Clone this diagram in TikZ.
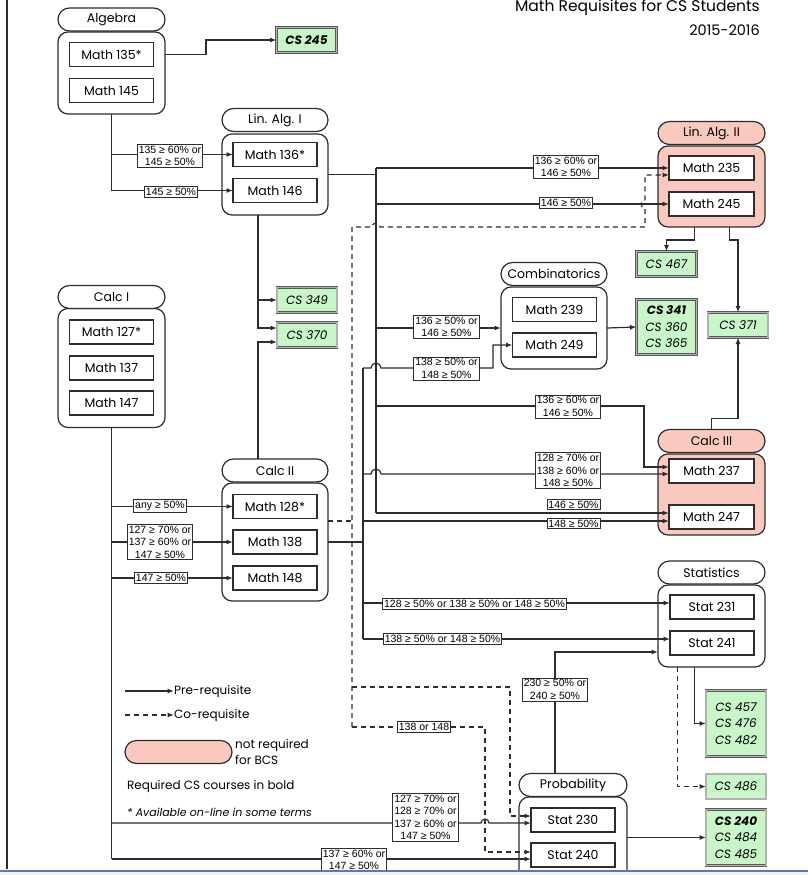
\documentclass[tikz,border=0pt]{standalone}
\usepackage{fontspec}
\setmainfont{Poppins}
\newfontfamily\lblfont{Liberation Sans}
\usetikzlibrary{arrows.meta,calc}
\definecolor{csgreen}{RGB}{200,246,200}
\definecolor{pinkfill}{RGB}{249,201,191}
\definecolor{ink}{RGB}{45,45,45}
\definecolor{bandblue}{RGB}{90,120,190}
\begin{document}
\begin{tikzpicture}[x=1pt,y=-1pt,
  line/.style={draw=ink,line width=1.2pt},
  pre/.style={line,-{Latex[length=6.5pt,width=5pt]}},
  co/.style={pre,dash pattern=on 5pt off 4pt},
  grp/.style={draw=ink,line width=1.2pt,rounded corners=10pt,minimum width=107pt,inner sep=0pt,outer sep=0pt,fill=white},
  hdr/.style={grp,rounded corners=11.5pt,minimum height=23pt,font=\fontsize{12.5}{14}\selectfont},
  pk/.style={fill=pinkfill},
  crs/.style={draw=ink,line width=1.1pt,fill=white,minimum width=84pt,minimum height=24pt,inner sep=0pt,outer sep=0pt,font=\fontsize{12.5}{14}\selectfont},
  cs/.style={draw=black!65,line width=0.6pt,double=black!30,double distance=1.2pt,fill=csgreen,minimum width=60pt,minimum height=25pt,inner sep=0pt,outer sep=0pt,font=\fontsize{12}{16.5}\selectfont\itshape,align=center},
  lbl/.style={draw=ink,line width=0.8pt,fill=white,inner sep=1.5pt,outer sep=0pt,font=\lblfont\fontsize{10.5}{12.5}\selectfont,align=center},
  txt/.style={font=\fontsize{12}{16}\selectfont,inner sep=0pt,anchor=west}
]
\useasboundingbox (0,0) rectangle (808,875);
\fill[white] (0,0) rectangle (808,875);

% title
\node[anchor=base east,inner sep=0pt,font=\fontsize{15.5}{18}\selectfont] (title) at (760,12) {Math Requisites for CS Students};
\node[anchor=base east,inner sep=0pt,font=\fontsize{14.5}{16}\selectfont] (year) at (760,36) {2015-2016};

% ---------- groups ----------
\node[grp,minimum height=82pt] (algG) at (111.5,73) {};
\node[hdr] (algH) at (111.5,19.5) {Algebra};
\node[crs] (m135) at (111.5,54.5) {Math 135*};
\node[crs] (m145) at (111.5,90.5) {Math 145};

\node[grp,minimum height=81pt,minimum width=106pt] (laG) at (275,174.5) {};
\node[hdr,minimum width=106pt] (laH) at (275,120) {Lin. Alg. I};
\node[crs] (m136) at (275,154.5) {Math 136*};
\node[crs] (m146) at (275,190.5) {Math 146};

\node[grp,minimum height=119pt] (c1G) at (111.5,368) {};
\node[hdr] (c1H) at (111.5,297) {Calc I};
\node[crs] (m127) at (111.5,332) {Math 127*};
\node[crs] (m137) at (111.5,368) {Math 137};
\node[crs] (m147) at (111.5,403) {Math 147};

\node[grp,minimum height=118pt,minimum width=106pt] (c2G) at (275,542) {};
\node[hdr,minimum width=106pt] (c2H) at (275,470.5) {Calc II};
\node[crs] (m128) at (275,506.5) {Math 128*};
\node[crs] (m138) at (275,542) {Math 138};
\node[crs] (m148) at (275,578) {Math 148};

\node[grp,pk,minimum height=81pt] (la2G) at (711.5,186.5) {};
\node[hdr,pk] (la2H) at (711.5,133) {Lin. Alg. II};
\node[crs,minimum width=85pt] (m235) at (711.5,168) {Math 235};
\node[crs,minimum width=85pt] (m245) at (711.5,204) {Math 245};

\node[grp,minimum height=82pt,minimum width=106pt] (cmbG) at (554,328) {};
\node[hdr,minimum width=106pt] (cmbH) at (554,274) {Combinatorics};
\node[crs] (m239) at (554.5,309.5) {Math 239};
\node[crs] (m249) at (554.5,345) {Math 249};

\node[grp,pk,minimum height=81pt] (c3G) at (711.5,494.5) {};
\node[hdr,pk] (c3H) at (711.5,441) {Calc III};
\node[crs,minimum width=85pt] (m237) at (711.5,471) {Math 237};
\node[crs,minimum width=85pt] (m247) at (711.5,517) {Math 247};

\node[grp,minimum height=82pt] (stG) at (711.5,626) {};
\node[hdr] (stH) at (711.5,572.5) {Statistics};
\node[crs] (st231) at (712,607) {Stat 231};
\node[crs] (st241) at (712,643) {Stat 241};

\node[grp,minimum height=90pt,minimum width=108pt] (prG) at (573,842) {};
\node[hdr,minimum width=108pt] (prH) at (573,785) {Probability};
\node[crs] (st230) at (573,820) {Stat 230};
\node[crs] (st240) at (573,855) {Stat 240};

% ---------- CS courses ----------
\node[cs] (cs245) at (306.5,40) {\textbf{CS 245}};
\node[cs] (cs349) at (307,300) {CS 349};
\node[cs] (cs370) at (307,335) {CS 370};
\node[cs] (cs467) at (666.5,264) {CS 467};
\node[cs] (cs371) at (738,325) {CS 371};
\node[cs,minimum height=55pt] (cs341) at (666.5,327) {\textbf{CS 341}\\CS 360\\CS 365};
\node[cs,minimum height=66pt] (cs457) at (736,723.5) {CS 457\\CS 476\\CS 482};
\node[cs] (cs486) at (736,786.5) {CS 486};
\node[cs,minimum height=56pt] (cs240) at (736,837.5) {\textbf{CS 240}\\CS 484\\CS 485};

% ---------- helper coordinates ----------
\coordinate (busA) at (376,168);
\coordinate (busB) at (363,368);
\coordinate (j249) at (493,368);
\coordinate (j237) at (644,406);
\coordinate (dA) at (352,227);
\coordinate (dE) at (645,227);
\coordinate (dB) at (485,727);
\coordinate (dC) at (510,687);
\coordinate (c2d) at ([yshift=21pt]c2G.east);
\coordinate (laS) at ([xshift=-17pt]laG.south);
\coordinate (c2N) at ([xshift=-17pt]c2H.north);
\coordinate (m235a) at ([yshift=-7pt]m235.west);
\coordinate (m237a) at ([yshift=4pt]m237.west);
\coordinate (m237b) at ([yshift=-3pt]m237.west);
\coordinate (m247a) at ([yshift=4pt]m247.west);
\coordinate (m247b) at ([yshift=-4pt]m247.west);
\coordinate (cs370a) at ([yshift=7pt]cs370.west);
\coordinate (cs370b) at ([yshift=-7pt]cs370.west);
\coordinate (st230a) at ([yshift=4pt]st230.west);
\coordinate (st230b) at ([yshift=-3pt]st230.west);
\coordinate (st240a) at ([yshift=3pt]st240.west);
\coordinate (st240b) at ([yshift=-4pt]st240.west);
\coordinate (st231a) at ([yshift=4pt]st231.west);
\coordinate (st241a) at ([yshift=4pt]st241.west);
\coordinate (stIn) at ([yshift=-26pt]stG.west);

% ---------- connectors ----------
\draw[pre] (algG.east |- m135) -- ++(41,0) |- (cs245.west);
\draw[line] (algG.south) -- (algG.south |- m146);
\draw[pre] (algG.south |- m136) -- (m136.west);
\draw[pre] (algG.south |- m146) -- (m146.west);

\draw[line] (laG.east) -- (laG.east -| busA);
\draw[line] (busA) -- (busA |- m247a);
\draw[pre] (busA) -- (m235.west);
\draw[pre] (busA |- m245) -- (m245.west);
\draw[pre] (busA |- cmbG) -- (cmbG.west);
\draw[pre] (busA |- j237) -- (j237) |- (m237a);
\draw[pre] (busA |- m247a) -- (m247a);

\draw[pre] (laS) |- (cs370a);
\draw[pre] (laS |- cs349) -- (cs349.west);
\draw[pre] (c2N) |- (cs370b);

\draw[line] (c1G.south) -- (c1G.south |- st240b);
\draw[pre] (c1G.south |- m128) -- (m128.west);
\draw[pre] (c1G.south |- m138) -- (m138.west);
\draw[pre] (c1G.south |- m148) -- (m148.west);
\draw[pre] (c1G.south |- st230b) -- ($(dB |- st230b)+(-4,0)$) arc[start angle=180,end angle=0,radius=4pt] -- (st230b);
\draw[pre] (c1G.south |- st240b) -- (st240b);

\draw[line] (c2G.east) -- (c2G.east -| busB);
\draw[line] (busB) -- (busB |- st241a);
\draw[pre] (busB) -- ($(busA |- busB)+(-5,0)$) arc[start angle=180,end angle=0,radius=5pt] -- (j249) |- (m249.west);
\draw[pre] (busB |- m237b) -- ($(busA |- m237b)+(-5,0)$) arc[start angle=180,end angle=0,radius=5pt] -- (m237b);
\draw[pre] (busB |- m247b) -- (m247b);
\draw[pre] (busB |- st231a) -- (st231a);
\draw[pre] (busB |- st241a) -- (st241a);

\draw[co,-] (c2d) -- (c2d -| dA);
\draw[co] (dA |- dB) -- (dA) -- ($(busA |- dA)+(-4,0)$) arc[start angle=180,end angle=0,radius=4pt] -- (dE) -- ($(dE |- m245)+(0,4)$) arc[start angle=-90,end angle=-270,radius=4pt] -- (m235a -| dE) -- (m235a);
\draw[co] (dA |- dC) -- (dC) |- (st230a);
\draw[co] (dA |- dB) -- (dB) |- (st240a);

\draw[co] ([xshift=-34pt]stG.south) |- (cs486.west);
\draw[pre] ([xshift=-17pt]stG.south) |- (cs457.west);

\draw[pre] ([xshift=-17pt]la2G.south) -- ++(0,13) -| (cs467.north);
\draw[pre] ([xshift=18pt]la2G.south) -- ++(0,13) -| (cs371.north);
\draw[pre] (c3H.north) -- ++(0,-11) -| (cs371.south);
\draw[pre] (cmbG.east) -- (cs341.west);
\draw[pre] ([xshift=-18pt]prH.north) |- (stIn);
\draw[pre] (prG.east |- cs240) -- (cs240.west);

% ---------- condition labels ----------
\node[lbl] (L1) at (170,156) {135 ≥ 60\% or\\145 ≥ 50\%};
\node[lbl] (L2) at (171,192) {145 ≥ 50\%};
\node[lbl] (L3) at (566,167) {136 ≥ 60\% or\\146 ≥ 50\%};
\node[lbl] (L4) at (566,203) {146 ≥ 50\%};
\node[lbl] (L5) at (446.5,327) {136 ≥ 50\% or\\146 ≥ 50\%};
\node[lbl] (L6) at (446.5,368.5) {138 ≥ 50\% or\\148 ≥ 50\%};
\node[lbl] (L7) at (568,406.5) {136 ≥ 60\% or\\146 ≥ 50\%};
\node[lbl] (L8) at (568,470.5) {128 ≥ 70\% or\\138 ≥ 60\% or\\148 ≥ 50\%};
\node[lbl] (L9) at (573.5,504.5) {146 ≥ 50\%};
\node[lbl] (L10) at (573.5,523.5) {148 ≥ 50\%};
\node[lbl] (L11) at (160,506) {any ≥ 50\%};
\node[lbl] (L12) at (160,542) {127 ≥ 70\% or\\137 ≥ 60\% or\\147 ≥ 50\%};
\node[lbl] (L13) at (161,578) {147 ≥ 50\%};
\node[lbl] (L14) at (474.5,604) {128 ≥ 50\% or 138 ≥ 50\% or 148 ≥ 50\%};
\node[lbl] (L15) at (442.5,639) {138 ≥ 50\% or 148 ≥ 50\%};
\node[lbl] (L16) at (555,689.5) {230 ≥ 50\% or\\240 ≥ 50\%};
\node[lbl] (L17) at (424,727) {138 or 148};
\node[lbl] (L18) at (425.5,817.5) {127 ≥ 70\% or\\128 ≥ 70\% or\\137 ≥ 60\% or\\147 ≥ 50\%};
\node[lbl] (L19) at (354,860) {137 ≥ 60\% or\\147 ≥ 50\%};

% ---------- legend ----------
\coordinate (lgA) at (125,691);
\node[txt] (lgT1) at (174,691) {Pre-requisite};
\draw[pre] (lgA) -- (lgT1.west);
\coordinate (lgB) at (125,715);
\node[txt] (lgT2) at (174,715) {Co-requisite};
\draw[co] (lgB) -- (lgT2.west);
\node[hdr,pk] (lgP) at (178.5,752) {};
\node[txt,align=left] (lgT3) at (235,752) {not required\\for BCS};
\node[txt] (lgT4) at (127,786) {Required CS courses in bold};
\node[txt,font=\fontsize{11}{14}\selectfont\itshape] (lgT5) at (127,812) {* Available on-line in some terms};

% ---------- screen frame ----------
\draw[ink,line width=1.2pt] (7,0) -- (7,869);
\fill[bandblue] (0,869.5) rectangle (808,872);
\fill[gray!12] (0,872) rectangle (808,875);
\end{tikzpicture}
\end{document}
